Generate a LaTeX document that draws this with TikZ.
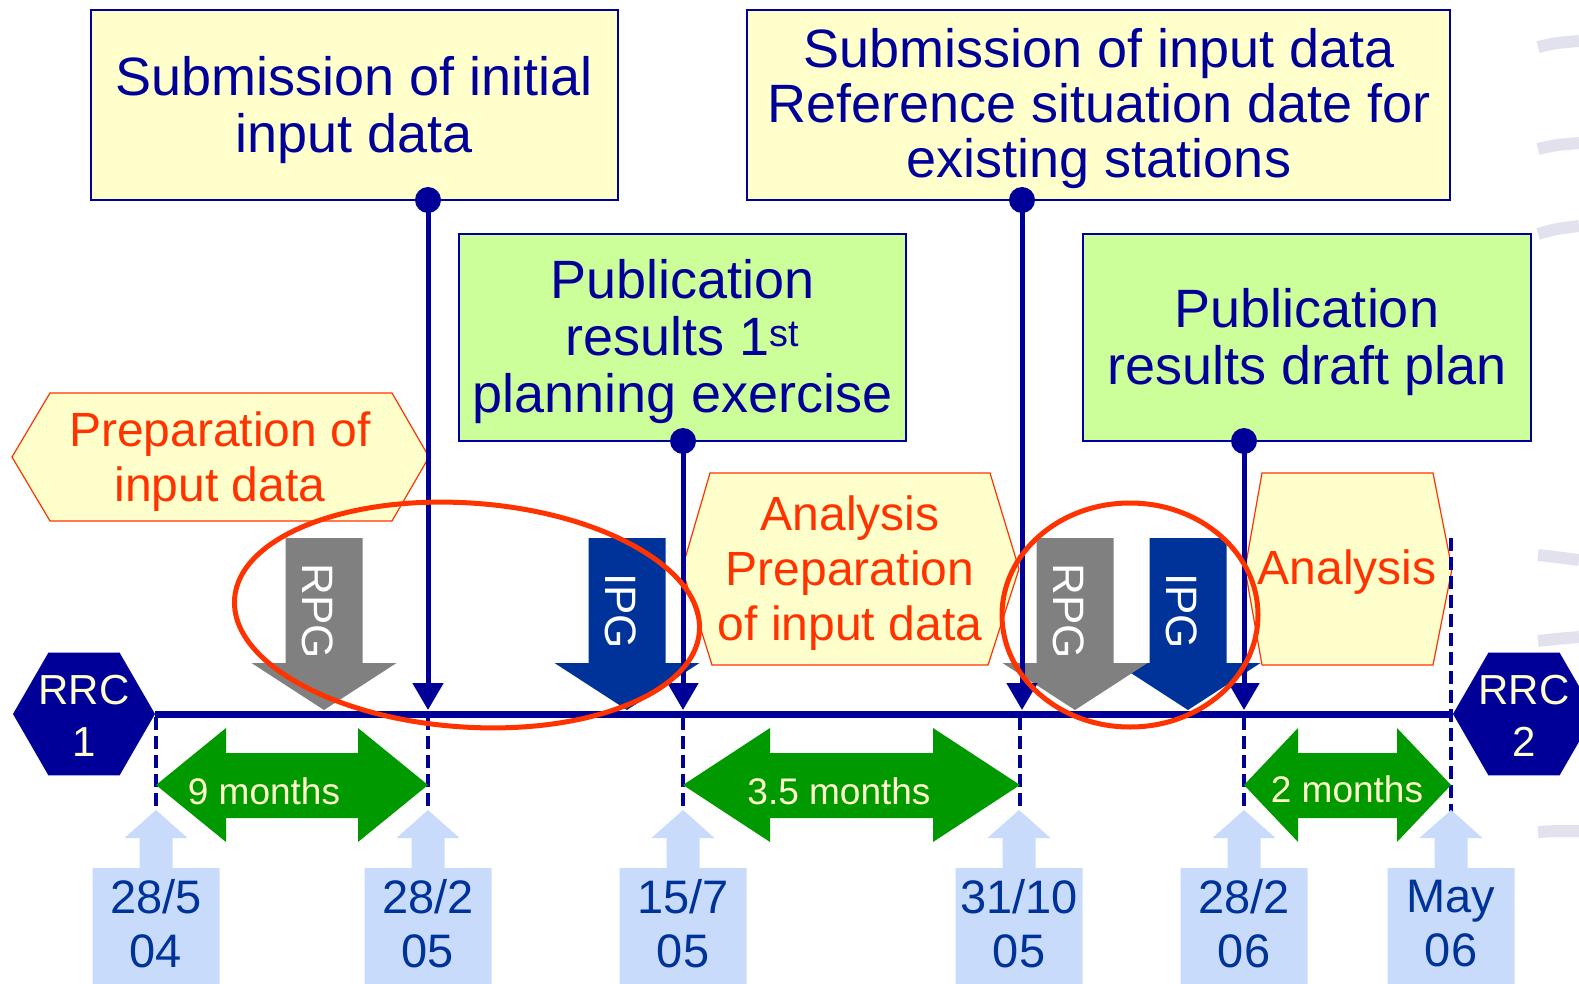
\documentclass[tikz,border=0pt]{standalone}
\usepackage{fontspec}
\setmainfont{Liberation Sans}
\usetikzlibrary{shapes.geometric,arrows.meta}
\definecolor{dblue}{HTML}{000099}
\definecolor{mblue}{HTML}{003399}
\definecolor{cream}{HTML}{FFFFCC}
\definecolor{lgreen}{HTML}{CCFF99}
\definecolor{ored}{HTML}{FF3300}
\definecolor{dgreen}{HTML}{009900}
\definecolor{lblue}{HTML}{C9DBFA}
\definecolor{rpggray}{HTML}{808080}
\definecolor{arcgray}{HTML}{E2E2EE}
\newcommand\datecallout[1]{%
  \path[datebox] ({#1-63.5},990) -- ({#1-63.5},868) -- ({#1-16.5},868) -- ({#1-16.5},838) -- ({#1-31.5},838) -- (#1,810) -- ({#1+31.5},838) -- ({#1+16.5},838) -- ({#1+16.5},868) -- ({#1+63.5},868) -- ({#1+63.5},990) -- cycle;}
\newcommand\blockarrow[2]{%
  \path[#2] ({#1-38.5},538) -- ({#1+38.5},538) -- ({#1+38.5},663) -- ({#1+72.5},663) -- (#1,710) -- ({#1-72.5},663) -- ({#1-38.5},663) -- cycle;}
\newcommand\spanarrow[3]{%
  \path[spanfill] (#1,785) -- ({#1+#3},728) -- ({#1+#3},753) -- ({#2-#3},753) -- ({#2-#3},728) -- (#2,785) -- ({#2-#3},842) -- ({#2-#3},818) -- ({#1+#3},818) -- ({#1+#3},842) -- cycle;}
\begin{document}
\begin{tikzpicture}[x=1pt,y=-1pt,
  topbox/.style={draw=dblue,line width=1.5pt,fill=cream,inner sep=0pt},
  pubbox/.style={topbox,fill=lgreen},
  boxtext/.style={text=dblue,align=center,inner sep=0pt,font=\fontsize{54}{57}\selectfont},
  hexshape/.style={draw=ored,line width=1.2pt,fill=cream},
  hextext/.style={text=ored,align=center,inner sep=0pt,font=\fontsize{48}{55}\selectfont},
  blkgray/.style={fill=rpggray},
  blkblue/.style={fill=mblue},
  blktext/.style={text=white,rotate=-90,inner sep=0pt,font=\fontsize{44}{50}\selectfont},
  tline/.style={draw=dblue,line width=7pt},
  vline/.style={draw=dblue,line width=5pt,-{Triangle[width=30pt,length=27pt]}},
  knob/.style={circle,fill=dblue,inner sep=0pt,minimum size=26pt},
  dline/.style={draw=dblue,line width=3.5pt,dash pattern=on 13pt off 6pt},
  rrc/.style={regular polygon,regular polygon sides=6,fill=dblue,inner sep=0pt,minimum size=142pt},
  rrctext/.style={text=cream,align=center,inner sep=0pt,font=\fontsize{42}{52}\selectfont},
  spanfill/.style={fill=dgreen},
  spantext/.style={text=cream,inner sep=0pt,font=\fontsize{37}{40}\selectfont},
  datebox/.style={fill=lblue},
  datetext/.style={text=mblue,align=center,inner sep=0pt,font=\fontsize{47}{54}\selectfont},
  redring/.style={draw=ored,line width=5pt},
  bgarc/.style={draw=arcgray,line width=12pt}
]
\useasboundingbox (0,0) rectangle (1579,984);

% background decorative arcs
\draw[bgarc] (1538,47) .. controls (1555,43) .. (1579,41);
\draw[bgarc] (1538,149) .. controls (1555,145) .. (1579,143);
\draw[bgarc] (1538,234) .. controls (1555,229) .. (1579,226);
\draw[bgarc] (1538,555) .. controls (1555,557) .. (1579,560);
\draw[bgarc] (1538,641) .. controls (1555,639) .. (1579,637);
\draw[bgarc] (1538,832) .. controls (1555,831) .. (1579,831);

% top boxes
\node[topbox,minimum width=527pt,minimum height=190pt] (sub1) at (354.5,105) {};
\node[boxtext] (sub1t) at (354.5,110) {Submission of initial\\input data};
\node[topbox,minimum width=703pt,minimum height=190pt] (sub2) at (1098.5,105) {};
\node[boxtext,font=\fontsize{54}{55}\selectfont] (sub2t) at (1099,109) {Submission of input data\\Reference situation date for\\existing stations};
\node[pubbox,minimum width=447pt,minimum height=207pt] (pub1) at (682.5,337.5) {};
\node[boxtext] (pub1t) at (682.5,342) {Publication\\results 1\textsuperscript{st}\\planning exercise};
\node[pubbox,minimum width=448pt,minimum height=207pt] (pub2) at (1307,337.5) {};
\node[boxtext] (pub2t) at (1307,342) {Publication\\results draft plan};

% hexagonal activity boxes
\path[hexshape] (12,457) -- (50,393) -- (392,393) -- (429,457) -- (392,521) -- (50,521) -- cycle;
\node[hextext] (prep) at (220,462) {Preparation of\\input data};
\path[hexshape] (682,569) -- (710,473) -- (990,473) -- (1019,569) -- (988,665) -- (712,665) -- cycle;
\node[hextext] (anaprep) at (850,573) {Analysis\\Preparation\\of input data};
\path[hexshape] (1245,569) -- (1262,473) -- (1433,473) -- (1452,569) -- (1433,665) -- (1262,665) -- cycle;
\node[hextext] (ana) at (1347,572) {Analysis};

% RPG / IPG block arrows
\blockarrow{324}{blkgray}
\node[blktext] (rpg1) at (318,611) {RPG};
\blockarrow{627}{blkblue}
\node[blktext] (ipg1) at (621,611) {IPG};
\blockarrow{1188}{blkblue}
\node[blktext] (ipg2) at (1182,611) {IPG};
\blockarrow{1075}{blkgray}
\node[blktext] (rpg2) at (1069,611) {RPG};

% RRC hexagons and timeline
\node[rrc] (rrc1) at (84,714) {};
\node[rrctext] (rrc1t) at (84,716) {RRC\\1};
\node[rrc] (rrc2) at (1524,714) {};
\node[rrctext] (rrc2t) at (1524,716) {RRC\\2};
\draw[tline] (rrc1.east) -- (rrc2.west);

% milestone points
\coordinate (t1) at (156,717);
\coordinate (t2) at (428,710);
\coordinate (t3) at (683,710);
\coordinate (t4) at (1022,710);
\coordinate (t5) at (1244,710);
\coordinate (t6) at (1451,538);
\coordinate (b1) at (156,810);
\coordinate (b2) at (428,810);
\coordinate (b3) at (683,810);
\coordinate (b4) at (1020,810);
\coordinate (b5) at (1244,810);
\coordinate (b6) at (1451,824);
\coordinate (u2) at (428,717);
\coordinate (u3) at (683,717);
\coordinate (u4) at (1020,717);
\coordinate (u5) at (1244,717);

% dashed drop lines
\draw[dline] (t1) -- (b1);
\draw[dline] (u2) -- (b2);
\draw[dline] (u3) -- (b3);
\draw[dline] (u4) -- (b4);
\draw[dline] (u5) -- (b5);
\draw[dline] (t6) -- (b6);

% milestone arrows with dots
\node[knob] (k1) at (428,200) {};
\node[knob] (k2) at (683,441) {};
\node[knob] (k3) at (1022,200) {};
\node[knob] (k4) at (1244,441) {};
\draw[vline] (k1.center) -- (t2);
\draw[vline] (k2.center) -- (t3);
\draw[vline] (k3.center) -- (t4);
\draw[vline] (k4.center) -- (t5);

% durations
\spanarrow{156}{428}{70}
\node[spantext] (m9) at (264,791) {9 months};
\spanarrow{683}{1020}{87}
\node[spantext] (m35) at (839,791) {3.5 months};
\spanarrow{1244}{1451}{54}
\node[spantext] (m2) at (1347,789) {2 months};

% date callouts
\datecallout{156}
\node[datetext] (d1) at (156,924) {28/5\\04};
\datecallout{428}
\node[datetext] (d2) at (428,924) {28/2\\05};
\datecallout{683}
\node[datetext] (d3) at (683,924) {15/7\\05};
\datecallout{1019}
\node[datetext] (d4) at (1019,924) {31/10\\05};
\datecallout{1244}
\node[datetext] (d5) at (1244,924) {28/2\\06};
\datecallout{1451}
\node[datetext] (d6) at (1451,924) {May\\06};

% red highlight ellipses
\draw[redring,rotate around={-4:(467,615)}] (467,615) ellipse (233 and 112);
\draw[redring] (1130,615) ellipse (128 and 112);
\end{tikzpicture}
\end{document}
